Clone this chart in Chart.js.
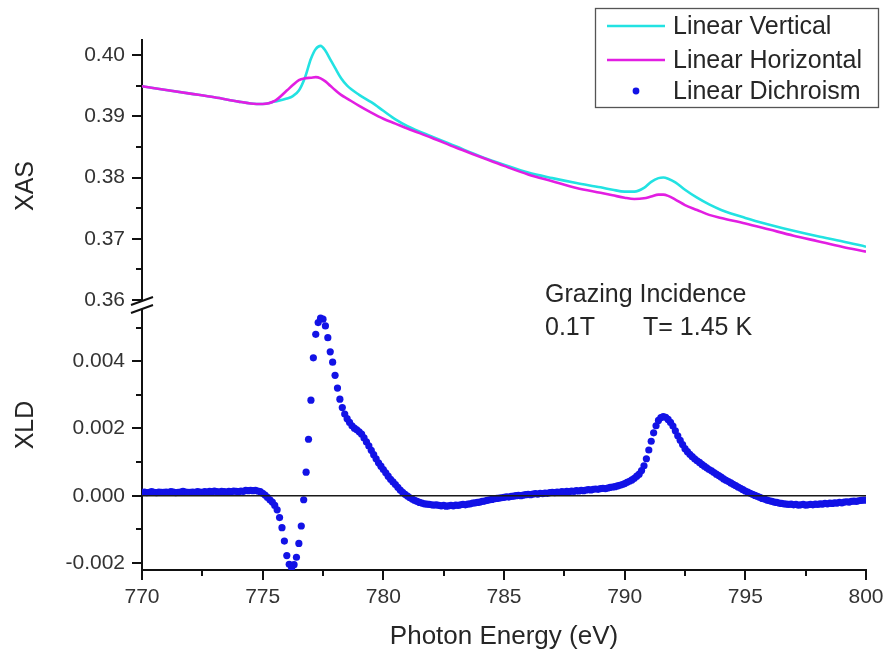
<!DOCTYPE html>
<html>
<head>
<meta charset="utf-8">
<title>XAS / XLD</title>
<script src="https://cdn.jsdelivr.net/npm/chart.js@4.4.1/dist/chart.umd.min.js"></script>
<style>
  html, body { margin: 0; padding: 0; background: #ffffff; }
  #plot { display: block; width: 885px; height: 654px; }
</style>
</head>
<body>
<canvas id="plot" width="885" height="654"></canvas>
<script>
// ---- XAS spectra (photon energy in eV) ----
const xasEnergy = [770, 771, 772, 773, 774, 774.5, 775, 775.5, 776, 776.25, 776.5, 776.75,
  777, 777.2, 777.4, 777.6, 777.8, 778, 778.25, 778.5, 779, 779.5, 780, 780.5, 781, 782,
  783, 784, 785, 786, 787, 788, 789, 789.5, 790, 790.4, 790.8, 791.1, 791.4, 791.6, 791.8,
  792.1, 792.5, 793, 793.5, 794, 795, 796, 797, 798, 799, 800];

const xasVertical = [0.3949, 0.3943, 0.3937, 0.3931, 0.3924, 0.3921, 0.3920, 0.3924, 0.3929, 0.3933, 0.3942, 0.3963,
  0.3994, 0.4010, 0.4015, 0.4007, 0.3993, 0.3979, 0.3962, 0.3950, 0.3935, 0.3923, 0.3909, 0.3895, 0.3884, 0.3867,
  0.3851, 0.3835, 0.3821, 0.3808, 0.3799, 0.3791, 0.3784, 0.3780, 0.3777, 0.3777, 0.3783, 0.3793, 0.3799, 0.3800, 0.3798,
  0.3792, 0.3780, 0.3767, 0.3756, 0.3747, 0.3734, 0.3723, 0.3713, 0.3704, 0.3696, 0.3687];

const xasHorizontal = [0.3949, 0.3943, 0.3937, 0.3931, 0.3924, 0.3921, 0.3920, 0.3925, 0.3942, 0.3951, 0.3959, 0.3962,
  0.3963, 0.3964, 0.3962, 0.3957, 0.3950, 0.3943, 0.3935, 0.3929, 0.3917, 0.3906, 0.3896, 0.3888, 0.3880, 0.3865,
  0.3849, 0.3834, 0.3819, 0.3805, 0.3794, 0.3783, 0.3775, 0.3771, 0.3767, 0.3765, 0.3766, 0.3769, 0.3772, 0.3772, 0.3770,
  0.3764, 0.3755, 0.3747, 0.3739, 0.3734, 0.3725, 0.3715, 0.3705, 0.3696, 0.3687, 0.3679];

// ---- XLD, recorded on a 0.1 eV grid from 770.0 eV to 800.0 eV ----
const xldStartEnergy = 770.0;
const xldEnergyStep = 0.1;
const xldValues = [
  0.00010, 0.00011, 0.00009, 0.00010, 0.00012, 0.00010, 0.00009, 0.00011, 0.00010, 0.00010,
  0.00011, 0.00010, 0.00012, 0.00011, 0.00009, 0.00010, 0.00011, 0.00013, 0.00011, 0.00010,
  0.00010, 0.00011, 0.00010, 0.00012, 0.00011, 0.00010, 0.00012, 0.00011, 0.00013, 0.00012,
  0.00014, 0.00012, 0.00011, 0.00013, 0.00012, 0.00011, 0.00013, 0.00012, 0.00014, 0.00013,
  0.00012, 0.00014, 0.00013, 0.00016, 0.00015, 0.00016, 0.00015, 0.00016, 0.00014, 0.00012,
  0.00007, 0.00002, -0.00005, -0.00012, -0.00019, -0.00029, -0.00042, -0.00065, -0.00095, -0.00135,
  -0.00178, -0.00204, -0.00214, -0.00205, -0.00183, -0.00142, -0.00090, -0.00012, 0.00070, 0.00168,
  0.00284, 0.00410, 0.00480, 0.00515, 0.00528, 0.00525, 0.00505, 0.00470, 0.00428, 0.00397,
  0.00358, 0.00320, 0.00287, 0.00262, 0.00243, 0.00229, 0.00218, 0.00208, 0.00201, 0.00196,
  0.00190, 0.00183, 0.00172, 0.00160, 0.00148, 0.00135, 0.00122, 0.00110, 0.00098, 0.00088,
  0.00078, 0.00068, 0.00058, 0.00049, 0.00041, 0.00033, 0.00025, 0.00017, 0.00010, 0.00004,
  -0.00001, -0.00006, -0.00010, -0.00014, -0.00017, -0.00020, -0.00022, -0.00024, -0.00025, -0.00026,
  -0.00027, -0.00028, -0.00027, -0.00029, -0.00030, -0.00029, -0.00031, -0.00030, -0.00029, -0.00030,
  -0.00028, -0.00029, -0.00027, -0.00026, -0.00027, -0.00025, -0.00024, -0.00022, -0.00021, -0.00020,
  -0.00019, -0.00017, -0.00016, -0.00014, -0.00012, -0.00011, -0.00009, -0.00008, -0.00007, -0.00006,
  -0.00005, -0.00003, -0.00004, -0.00002, -0.00001, 0.00000, 0.00001, 0.00000, 0.00002, 0.00003,
  0.00004, 0.00003, 0.00005, 0.00006, 0.00005, 0.00007, 0.00006, 0.00008, 0.00007, 0.00009,
  0.00010, 0.00009, 0.00011, 0.00010, 0.00012, 0.00011, 0.00013, 0.00012, 0.00014, 0.00013,
  0.00015, 0.00014, 0.00016, 0.00015, 0.00017, 0.00018, 0.00017, 0.00019, 0.00020, 0.00019,
  0.00021, 0.00022, 0.00021, 0.00023, 0.00025, 0.00026, 0.00027, 0.00029, 0.00031, 0.00033,
  0.00036, 0.00040, 0.00043, 0.00047, 0.00052, 0.00058, 0.00064, 0.00075, 0.00089, 0.00110,
  0.00136, 0.00162, 0.00187, 0.00208, 0.00224, 0.00232, 0.00235, 0.00233, 0.00227, 0.00218,
  0.00207, 0.00193, 0.00178, 0.00165, 0.00152, 0.00140, 0.00131, 0.00123, 0.00116, 0.00110,
  0.00104, 0.00099, 0.00093, 0.00088, 0.00083, 0.00078, 0.00074, 0.00069, 0.00064, 0.00060,
  0.00055, 0.00050, 0.00046, 0.00042, 0.00038, 0.00034, 0.00030, 0.00026, 0.00022, 0.00018,
  0.00014, 0.00011, 0.00007, 0.00004, 0.00001, -0.00002, -0.00005, -0.00008, -0.00010, -0.00013,
  -0.00015, -0.00017, -0.00019, -0.00020, -0.00022, -0.00023, -0.00024, -0.00025, -0.00026, -0.00025,
  -0.00027, -0.00026, -0.00028, -0.00027, -0.00026, -0.00028, -0.00027, -0.00026, -0.00027, -0.00025,
  -0.00026, -0.00024, -0.00025, -0.00023, -0.00024, -0.00022, -0.00023, -0.00021, -0.00022, -0.00020,
  -0.00021, -0.00019, -0.00018, -0.00019, -0.00017, -0.00016, -0.00017, -0.00015, -0.00014, -0.00013,
  -0.00013
];

// ---- axis ticks ----
const energyTicks = [770, 775, 780, 785, 790, 795, 800];
const energyMinorTicks = [772.5, 777.5, 782.5, 787.5, 792.5, 797.5];
const xasTicks = [0.36, 0.37, 0.38, 0.39, 0.40];
const xasMinorTicks = [0.365, 0.375, 0.385, 0.395];
const xldTicks = [-0.002, 0.000, 0.002, 0.004];
const xldMinorTicks = [-0.001, 0.001, 0.003, 0.005];

const FONT = "'Liberation Sans', Arial, Helvetica, sans-serif";
const TEXT = '#262626';
const CYAN = '#22e2e2';
const MAGENTA = '#e21ee2';
const BLUE = '#1212e6';

const toPoints = (xs, ys) => xs.map((x, i) => ({ x: x, y: ys[i] }));
const xldPoints = xldValues.map((v, i) => ({
  x: +(xldStartEnergy + i * xldEnergyStep).toFixed(1),
  y: v
}));

// ticks, broken axis, zero line, legend and labels
const decorations = {
  id: 'decorations',
  afterDatasetsDraw(chart) {
    const { ctx, chartArea: a, scales } = chart;
    const y0 = scales.yXld.getPixelForValue(0);
    ctx.save();
    ctx.strokeStyle = '#1a1a1a';
    ctx.lineWidth = 1.6;
    ctx.beginPath();
    ctx.moveTo(a.left, y0);
    ctx.lineTo(a.right, y0);
    ctx.stroke();
    ctx.restore();
  },
  afterDraw(chart) {
    const { ctx, chartArea: a, scales } = chart;
    const sx = scales.x, sA = scales.yXas, sD = scales.yXld;
    ctx.save();
    ctx.strokeStyle = '#111';
    ctx.lineWidth = 2;
    ctx.lineCap = 'butt';

    // outward ticks on the left axis
    const yTick = (scale, vals, len) => {
      vals.forEach(v => {
        const p = Math.round(scale.getPixelForValue(v));
        ctx.beginPath();
        ctx.moveTo(a.left - len, p);
        ctx.lineTo(a.left, p);
        ctx.stroke();
      });
    };
    yTick(sA, xasTicks, 10);
    yTick(sA, xasMinorTicks, 6);
    yTick(sD, xldTicks, 10);
    yTick(sD, xldMinorTicks, 6);

    // outward ticks on the bottom axis
    const xTick = (vals, len) => {
      vals.forEach(v => {
        const p = Math.round(sx.getPixelForValue(v));
        ctx.beginPath();
        ctx.moveTo(p, a.bottom);
        ctx.lineTo(p, a.bottom + len);
        ctx.stroke();
      });
    };
    xTick(energyTicks, 10);
    xTick(energyMinorTicks, 6);

    // axis break between the two panels
    const bx = a.left, by = sA.bottom;
    ctx.fillStyle = '#ffffff';
    ctx.beginPath();
    ctx.moveTo(bx - 11, by);
    ctx.lineTo(bx + 11, by - 8);
    ctx.lineTo(bx + 11, by);
    ctx.lineTo(bx - 11, by + 8);
    ctx.closePath();
    ctx.fill();
    ctx.beginPath();
    ctx.moveTo(bx - 11, by);
    ctx.lineTo(bx + 11, by - 8);
    ctx.moveTo(bx - 11, by + 8);
    ctx.lineTo(bx + 11, by);
    ctx.stroke();

    // axis titles
    ctx.fillStyle = TEXT;
    ctx.font = '25px ' + FONT;
    ctx.textAlign = 'center';
    ctx.textBaseline = 'middle';
    const rot = (txt, x, y) => {
      ctx.save();
      ctx.translate(x, y);
      ctx.rotate(-Math.PI / 2);
      ctx.fillText(txt, 0, 0);
      ctx.restore();
    };
    rot('XAS', 26, 186);
    rot('XLD', 26, 425);
    ctx.font = '26px ' + FONT;
    ctx.textBaseline = 'alphabetic';
    ctx.fillText('Photon Energy (eV)', (a.left + a.right) / 2, 644);

    // measurement conditions
    ctx.textAlign = 'left';
    ctx.font = '25px ' + FONT;
    ctx.fillText('Grazing Incidence', 545, 302);
    ctx.fillText('0.1T', 545, 335);
    ctx.fillText('T= 1.45 K', 643, 335);

    // legend
    const box = { x: 595.5, y: 8.5, w: 283, h: 99 };
    ctx.strokeStyle = '#555';
    ctx.lineWidth = 1.3;
    ctx.strokeRect(box.x, box.y, box.w, box.h);
    const rows = [26, 60, 91];
    ctx.font = '25px ' + FONT;
    ctx.textBaseline = 'middle';
    chart.data.datasets.forEach((ds, i) => {
      const ry = rows[i];
      if (ds.showLine) {
        ctx.strokeStyle = ds.borderColor;
        ctx.lineWidth = ds.borderWidth;
        ctx.beginPath();
        ctx.moveTo(607, ry);
        ctx.lineTo(665, ry);
        ctx.stroke();
      } else {
        ctx.fillStyle = ds.backgroundColor;
        ctx.beginPath();
        ctx.arc(636, ry, 3.4, 0, Math.PI * 2);
        ctx.fill();
      }
      ctx.fillStyle = TEXT;
      ctx.fillText(ds.label, 673, ry + 1);
    });
    ctx.restore();
  }
};

const tickFont = { family: FONT, size: 21 };

new Chart(document.getElementById('plot'), {
  type: 'scatter',
  data: {
    datasets: [
      {
        label: 'Linear Vertical',
        data: toPoints(xasEnergy, xasVertical),
        yAxisID: 'yXas',
        showLine: true,
        borderColor: CYAN,
        borderWidth: 2.6,
        pointRadius: 0,
        cubicInterpolationMode: 'monotone',
        order: 2
      },
      {
        label: 'Linear Horizontal',
        data: toPoints(xasEnergy, xasHorizontal),
        yAxisID: 'yXas',
        showLine: true,
        borderColor: MAGENTA,
        borderWidth: 2.6,
        pointRadius: 0,
        cubicInterpolationMode: 'monotone',
        order: 1
      },
      {
        label: 'Linear Dichroism',
        data: xldPoints,
        yAxisID: 'yXld',
        showLine: false,
        backgroundColor: BLUE,
        borderColor: BLUE,
        borderWidth: 0,
        pointRadius: 3.6,
        order: 3
      }
    ]
  },
  options: {
    responsive: false,
    animation: false,
    events: [],
    layout: { padding: { top: 40, right: 19, bottom: 0, left: 0 } },
    plugins: { legend: { display: false }, tooltip: { enabled: false }, title: { display: false } },
    scales: {
      x: {
        type: 'linear',
        min: 770,
        max: 800,
        grid: { display: false, drawTicks: false },
        border: { display: true, color: '#111', width: 2 },
        ticks: {
          font: tickFont, color: '#333', padding: 15, autoSkip: false, maxRotation: 0,
          callback: v => String(v)
        },
        afterBuildTicks: s => { s.ticks = energyTicks.map(v => ({ value: v })); },
        afterFit: s => { s.height = 84; s.paddingLeft = 0; s.paddingRight = 0; }
      },
      // lower panel (listed first so that it is stacked below the XAS panel)
      yXld: {
        type: 'linear',
        position: 'left',
        stack: 'panels',
        stackWeight: 1,
        min: -0.002209,
        max: 0.0056716,
        grid: { display: false, drawTicks: false },
        border: { display: true, color: '#111', width: 2 },
        ticks: {
          font: tickFont, color: '#333', padding: 17, autoSkip: false,
          callback: v => v.toFixed(3)
        },
        afterBuildTicks: s => { s.ticks = xldTicks.map(v => ({ value: v })); },
        afterFit: s => { s.width = 142; s.paddingTop = 0; s.paddingBottom = 0; }
      },
      yXas: {
        type: 'linear',
        position: 'left',
        stack: 'panels',
        stackWeight: 1,
        min: 0.35918,
        max: 0.40246,
        grid: { display: false, drawTicks: false },
        border: { display: true, color: '#111', width: 2 },
        ticks: {
          font: tickFont, color: '#333', padding: 17, autoSkip: false,
          callback: v => v.toFixed(2)
        },
        afterBuildTicks: s => { s.ticks = xasTicks.map(v => ({ value: v })); },
        afterFit: s => { s.width = 142; s.paddingTop = 0; s.paddingBottom = 0; }
      }
    }
  },
  plugins: [decorations]
});
</script>
</body>
</html>
